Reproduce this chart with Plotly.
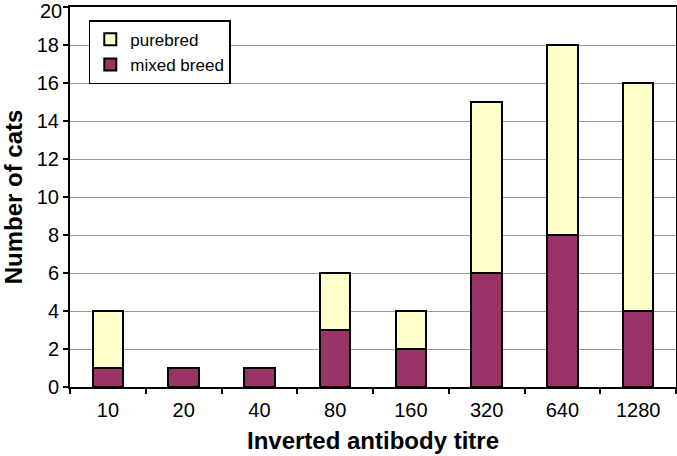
import plotly.graph_objects as go

categories = ["10", "20", "40", "80", "160", "320", "640", "1280"]
mixed_breed = [1, 1, 1, 3, 2, 6, 8, 4]
purebred = [3, 0, 0, 3, 2, 9, 10, 12]
y_tick_values = [0, 2, 4, 6, 8, 10, 12, 14, 16, 18, 20]
y_tick_labels = ["0", "2", "4", "6", "8", "10", "12", "14", "16", "18", ""]

fig = go.Figure()
fig.add_trace(go.Bar(x=categories, y=mixed_breed, name="mixed breed",
                     marker=dict(color="#993366", line=dict(color="black", width=2))))
fig.add_trace(go.Bar(x=categories, y=purebred, name="purebred",
                     marker=dict(color="#FFFFCC", line=dict(color="black", width=2))))

fig.update_layout(
    barmode="stack",
    bargap=0.6,
    width=677, height=456,
    margin=dict(l=70, r=1, t=7, b=69, autoexpand=False),
    plot_bgcolor="white", paper_bgcolor="white",
    font=dict(family="Liberation Sans, Arial, sans-serif", size=20, color="black"),
    legend=dict(x=0.031, y=0.965, xanchor="left", yanchor="top",
                bordercolor="black", borderwidth=1.5, bgcolor="white",
                traceorder="reversed", font=dict(size=17),
                itemwidth=30, tracegroupgap=0),
    showlegend=True,
)
# top "20" label sits slightly below the top border, as in the original
fig.add_annotation(x=0, xref="paper", y=y_tick_values[-1], yref="y",
                   text=str(y_tick_values[-1]), showarrow=False,
                   xanchor="right", yanchor="middle", xshift=-6, yshift=-4,
                   font=dict(size=20))
fig.update_xaxes(
    type="category",
    showline=True, linecolor="black", linewidth=2, mirror=True,
    ticks="outside", tickson="boundaries", ticklen=5, tickwidth=1.5, tickcolor="black",
    ticklabelstandoff=4,
    title=dict(text="<b>Inverted antibody titre</b>", font=dict(size=24), standoff=12),
)
fig.update_yaxes(
    range=[0, 20], tickvals=y_tick_values, ticktext=y_tick_labels,
    showline=True, linecolor="black", linewidth=2, mirror=True,
    ticks="outside", ticklen=5, tickwidth=1.5, tickcolor="black",
    showgrid=True, gridcolor="#999999", gridwidth=1,
    title=dict(text="<b>Number of cats</b>", font=dict(size=24), standoff=20),
)

fig.write_html("out.html", config={"displayModeBar": False},
               post_script="document.body.style.margin='0';document.body.style.overflow='hidden';")
